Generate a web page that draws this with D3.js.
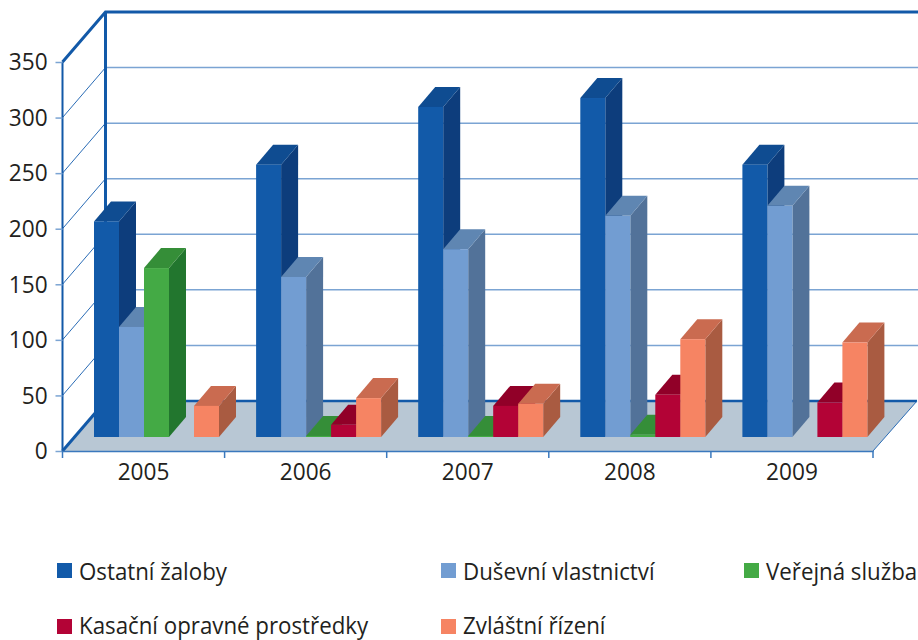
<!DOCTYPE html>
<html>
<head>
<meta charset="utf-8">
<script src="https://d3js.org/d3.v7.min.js"></script>
<style>
  html, body { margin: 0; padding: 0; background: #fff; }
  text { font-family: "Open Sans", sans-serif; fill: #231f20; }
</style>
</head>
<body>
<svg id="chart" width="918" height="640"></svg>
<script>
var years = ["2005", "2006", "2007", "2008", "2009"];
var seriesNames = ["Ostatní žaloby", "Duševní vlastnictví", "Veřejná služba", "Kasační opravné prostředky", "Zvláštní řízení"];
var ostatni = [194, 245, 297, 305, 245];
var dusevni = [99, 144, 169, 199, 208];
var verejna = [152, 1, 1, 2, 0];
var kasacni = [0, 11, 28, 38, 31];
var zvlastni = [28, 35, 30, 88, 85];
var yTicks = [0, 50, 100, 150, 200, 250, 300, 350];

var allSeries = [ostatni, dusevni, verejna, kasacni, zvlastni];

//front, top and side colours of each series
var colors = [
    { front: "#125aa9", top: "#0f4c91", side: "#0d3d7c" },
    { front: "#729dd2", top: "#5f86b2", side: "#527299" },
    { front: "#44aa45", top: "#358e38", side: "#22762e" },
    { front: "#b30336", top: "#910028", side: "#910028" },
    { front: "#f68463", top: "#ca6b50", side: "#a95b41" }
];

var svg = d3.select("#chart");

//the chart box: front plane, and how far back the walls go
var depthX = 43, depthY = 50;
var barDepthX = 17, barDepthY = 20;
var x = d3.scaleBand().domain(years).range([62.5, 873]);
var y = d3.scaleLinear().domain([0, 350]).range([451, 62]);
var barBase = 437;
var barZero = y(0) - barBase;
var inner = d3.scaleBand().domain(d3.range(5)).range([0, 125]);
var barOffset = 31.5;

var axisBlue = "#1259a8", gridBlue = "#7ba4d3", thinBlue = "#2a6cb6";
var textSqueeze = "scale(0.925,1)";

function path(points) {
    return "M" + points.map(p => p.join(",")).join("L") + "Z";
}

//floor
svg.append("path")
    .attr("d", path([[x.range()[0], y(0)], [x.range()[0] + depthX, y(0) - depthY], [x.range()[1] + depthX + 1, y(0) - depthY], [x.range()[1], y(0)]]))
    .attr("fill", "#b8c7d4");

//gridlines on back wall and side wall
yTicks.slice(1, -1).forEach(t => {
    svg.append("line")
        .attr("x1", x.range()[0] + depthX).attr("x2", 918)
        .attr("y1", y(t) - depthY).attr("y2", y(t) - depthY)
        .attr("stroke", gridBlue).attr("stroke-width", 1.5);
    svg.append("line")
        .attr("x1", x.range()[0]).attr("x2", x.range()[0] + depthX)
        .attr("y1", y(t)).attr("y2", y(t) - depthY)
        .attr("stroke", thinBlue).attr("stroke-width", 1);
});

//frame
svg.append("path")
    .attr("d", `M${x.range()[0]},${y(350)}L${x.range()[0] + depthX},${y(350) - depthY}L918,${y(350) - depthY}`)
    .attr("fill", "none").attr("stroke", axisBlue).attr("stroke-width", 3);
svg.append("line")
    .attr("x1", x.range()[0] + depthX).attr("x2", x.range()[0] + depthX)
    .attr("y1", y(350) - depthY).attr("y2", y(0) - depthY)
    .attr("stroke", axisBlue).attr("stroke-width", 3);
svg.append("line")
    .attr("x1", x.range()[0] + depthX).attr("x2", x.range()[1] + depthX + 1)
    .attr("y1", y(0) - depthY).attr("y2", y(0) - depthY)
    .attr("stroke", axisBlue).attr("stroke-width", 2.5);
svg.append("line")
    .attr("x1", x.range()[0]).attr("x2", x.range()[0] + depthX)
    .attr("y1", y(0)).attr("y2", y(0) - depthY)
    .attr("stroke", axisBlue).attr("stroke-width", 3);
svg.append("line")
    .attr("x1", x.range()[1]).attr("x2", x.range()[1] + depthX + 1)
    .attr("y1", y(0)).attr("y2", y(0) - depthY)
    .attr("stroke", thinBlue).attr("stroke-width", 1);
svg.append("line")
    .attr("x1", x.range()[0]).attr("x2", x.range()[0])
    .attr("y1", y(350)).attr("y2", y(0))
    .attr("stroke", axisBlue).attr("stroke-width", 2);

//axes
var yAxis = svg.append("g")
    .attr("transform", `translate(${x.range()[0]},0)`)
    .call(d3.axisLeft(y).tickValues(yTicks).tickSize(7).tickPadding(9));
yAxis.select(".domain").remove();
yAxis.selectAll("line").attr("stroke", gridBlue).attr("stroke-width", 1.5);
yAxis.selectAll("text")
    .style("font-size", "24.5px").style("font-family", '"Open Sans", sans-serif')
    .attr("fill", "#231f20").attr("transform", textSqueeze);

var xAxis = svg.append("g")
    .attr("transform", `translate(0,${y(0)})`)
    .call(d3.axisBottom(x).tickSize(0).tickPadding(12));
xAxis.select(".domain").attr("stroke", "#3a78bd").attr("stroke-width", 1.5);
xAxis.selectAll("text")
    .style("font-size", "24.5px").style("font-family", '"Open Sans", sans-serif')
    .attr("fill", "#231f20").attr("transform", textSqueeze);

//ticks between the categories
var tickLines = years.map(d => x(d)).concat([x.range()[1]]);
svg.selectAll(".xtick").data(tickLines).join("line")
    .attr("class", "xtick")
    .attr("x1", d => d).attr("x2", d => d)
    .attr("y1", y(0)).attr("y2", y(0) + 7)
    .attr("stroke", "#3a78bd").attr("stroke-width", 1.5);

//bars
years.forEach((year, i) => {
    allSeries.forEach((values, s) => {
        var v = values[i];
        if (!v) return;
        var left = x(year) + barOffset + inner(s);
        var right = left + inner.bandwidth();
        var top = y(v) - barZero;
        var g = svg.append("g").attr("class", "bar");
        g.append("path")
            .attr("d", path([[right, top], [right + barDepthX, top - barDepthY], [right + barDepthX, barBase - barDepthY], [right, barBase]]))
            .attr("fill", colors[s].side);
        g.append("path")
            .attr("d", path([[left, top], [left + barDepthX, top - barDepthY], [right + barDepthX, top - barDepthY], [right, top]]))
            .attr("fill", colors[s].top);
        g.append("rect")
            .attr("x", left).attr("y", top)
            .attr("width", inner.bandwidth()).attr("height", barBase - top)
            .attr("fill", colors[s].front);
    });
});

//legend
var legendX = [57, 441, 744, 57, 441];
var legendY = [563, 563, 563, 619, 619];
var legendBase = [580, 580, 580, 634, 634];
seriesNames.forEach((name, s) => {
    svg.append("rect")
        .attr("x", legendX[s]).attr("y", legendY[s])
        .attr("width", 15).attr("height", 15)
        .attr("fill", colors[s].front);
    svg.append("text")
        .attr("transform", `translate(${legendX[s] + 22},${legendBase[s]}) scale(0.91,1)`)
        .style("font-size", "24.5px")
        .text(name);
});
</script>
</body>
</html>
